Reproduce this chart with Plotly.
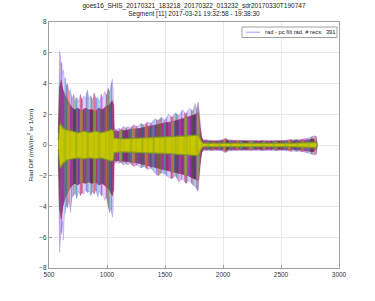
import plotly.graph_objects as go

# ---- data (envelopes of the 391 difference spectra) ----
# outer envelope (extremes)
wn_outer = [578, 585, 592, 598, 604, 610, 617, 624, 632, 640, 650, 660, 672, 685, 698, 712, 726, 740,
            755, 770, 785, 800, 815, 830, 845, 860, 875, 890, 905, 920, 935, 950, 965, 980, 995, 1010,
            1022, 1034, 1046, 1054, 1058,
            1062, 1080, 1100, 1120, 1140, 1160, 1180, 1200, 1230, 1260, 1290, 1320, 1350, 1380, 1410,
            1440, 1470, 1500, 1530, 1560, 1590, 1620, 1650, 1680, 1710, 1740, 1760, 1775, 1785, 1795,
            1805, 1815, 1825,
            1840, 1900, 1960, 2000, 2020, 2040, 2100, 2160, 2220, 2280, 2340, 2400, 2460, 2520, 2580,
            2640, 2700, 2740, 2770, 2790, 2805, 2812]
hi_outer = [0.8, 3.5, 6.1, 5.8, 5.2, 5.4, 4.6, 4.9, 4.2, 4.4, 3.8, 4.0, 3.4, 3.6, 3.0, 3.3, 2.9, 3.1,
            2.8, 3.3, 2.9, 3.2, 3.0, 3.6, 3.0, 3.2, 2.9, 3.4, 3.0, 3.1, 2.8, 3.3, 3.0, 3.5, 3.2, 3.7,
            3.4, 3.9, 4.3, 3.6, 1.2,
            1.1, 1.0, 1.1, 1.0, 1.2, 1.1, 1.2, 1.1, 1.3, 1.2, 1.4, 1.3, 1.5, 1.4, 1.7,
            1.6, 1.8, 1.6, 2.0, 1.8, 2.1, 1.9, 2.3, 2.0, 2.4, 2.2, 2.7, 2.3, 2.8, 2.2,
            1.2, 0.6, 0.4,
            0.35, 0.3, 0.3, 0.35, 0.45, 0.35, 0.3, 0.3, 0.3, 0.3, 0.3, 0.3, 0.3, 0.3, 0.35,
            0.35, 0.4, 0.45, 0.55, 0.6, 0.55, 0.2]
lo_outer = [-0.8, -3.8, -7.0, -6.2, -5.5, -5.8, -5.0, -6.2, -4.6, -4.4, -3.9, -4.1, -3.6, -4.4, -3.4, -3.3, -3.1, -3.5,
            -3.0, -3.3, -3.1, -3.2, -2.9, -3.1, -3.0, -3.3, -3.0, -3.2, -2.9, -3.4, -3.0, -3.3, -3.2, -3.6, -3.4, -4.0,
            -4.4, -4.1, -4.7, -4.3, -1.3,
            -1.2, -1.1, -1.2, -1.1, -1.3, -1.2, -1.3, -1.2, -1.4, -1.3, -1.5, -1.4, -1.6, -1.5, -1.8,
            -2.0, -1.8, -1.9, -2.1, -2.2, -2.0, -2.4, -2.2, -2.5, -2.3, -2.6, -2.7, -2.9, -3.0, -2.4,
            -1.3, -0.6, -0.4,
            -0.35, -0.35, -0.35, -0.4, -0.5, -0.4, -0.35, -0.35, -0.35, -0.35, -0.35, -0.35, -0.35, -0.35, -0.4,
            -0.4, -0.45, -0.5, -0.6, -0.65, -0.6, -0.2]

# dense band
wn_mid = [580, 592, 605, 620, 640, 665, 690, 720, 750, 780, 810, 840, 870, 900, 930, 960, 990, 1020, 1045,
          1058, 1062, 1100, 1150, 1200, 1250, 1300, 1350, 1400, 1450, 1500, 1550, 1600, 1650, 1700, 1750,
          1785, 1800, 1815, 1830, 1900, 2000, 2020, 2040, 2200, 2400, 2600, 2700, 2780, 2810]
hi_mid = [0.6, 3.8, 4.2, 3.6, 3.2, 2.8, 2.5, 2.3, 2.4, 2.2, 2.4, 2.3, 2.3, 2.2, 2.4, 2.3, 2.5, 2.6, 2.9,
          2.6, 0.9, 0.9, 0.95, 1.0, 1.05, 1.1, 1.2, 1.3, 1.35, 1.45, 1.5, 1.6, 1.7, 1.8, 1.95,
          2.1, 1.2, 0.5, 0.3, 0.25, 0.28, 0.35, 0.28, 0.25, 0.25, 0.28, 0.3, 0.4, 0.15]
lo_mid = [-0.6, -4.2, -4.8, -4.0, -3.4, -3.0, -2.7, -2.5, -2.6, -2.4, -2.5, -2.4, -2.5, -2.4, -2.6, -2.5, -2.7, -2.9, -3.3,
          -2.9, -1.0, -1.0, -1.05, -1.1, -1.15, -1.2, -1.3, -1.4, -1.5, -1.6, -1.7, -1.8, -1.9, -2.0, -2.2,
          -2.3, -1.3, -0.5, -0.3, -0.28, -0.3, -0.4, -0.3, -0.28, -0.28, -0.3, -0.35, -0.45, -0.15]

# yellow core
wn_core = [580, 590, 600, 620, 650, 700, 750, 800, 850, 900, 950, 1000, 1040, 1058, 1062, 1150, 1300,
           1500, 1700, 1790, 1810, 1830, 2000, 2200, 2400, 2600, 2800, 2810]
hi_core = [0.3, 1.2, 1.4, 1.1, 1.0, 0.9, 0.8, 0.9, 0.8, 0.9, 0.8, 0.9, 1.0, 0.9, 0.45, 0.4, 0.45,
           0.5, 0.6, 0.65, 0.3, 0.12, 0.12, 0.12, 0.12, 0.12, 0.18, 0.05]
lo_core = [-0.3, -1.2, -1.5, -1.2, -1.0, -0.9, -0.85, -0.9, -0.85, -0.9, -0.85, -0.95, -1.05, -0.95, -0.5, -0.45, -0.5,
           -0.55, -0.65, -0.7, -0.3, -0.12, -0.12, -0.12, -0.12, -0.12, -0.18, -0.05]

title_1 = "goes16_SHIS_20170321_183218_20170322_013232_sdr20170330T190747"
title_2 = "Segment [11] 2017-03-21 19:32:58 - 19:38:30"
legend_label = "rad - pc filt rad, # recs:\u00a0\u00a0391"
x_ticks = [500, 1000, 1500, 2000, 2500, 3000]
y_ticks = [-8, -6, -4, -2, 0, 2, 4, 6, 8]

FONT = "Liberation Sans, Arial, sans-serif"
CLEAR = "rgba(0,0,0,0)"


def band(xs, hi, lo):
    return list(xs) + list(xs)[::-1], list(hi) + list(lo)[::-1]


fig = go.Figure()


def add_fill(xs, hi, lo, fillcolor=None, line=None, pattern=None):
    bx, by = band(xs, hi, lo)
    kw = dict(x=bx, y=by, fill="toself", mode="lines", showlegend=False, hoverinfo="skip",
              line=line or dict(width=0, color=CLEAR))
    if fillcolor is not None:
        kw["fillcolor"] = fillcolor
    if pattern is not None:
        kw["fillpattern"] = pattern
        if fillcolor is None:
            kw["fillcolor"] = CLEAR
    fig.add_trace(go.Scatter(**kw))


# outer (sparse lines) band
add_fill(wn_outer, hi_outer, lo_outer, fillcolor="rgba(170,140,230,0.4)",
         line=dict(color="rgba(130,100,220,0.45)", width=0.6))
for col, size, sol in [("rgba(40,40,230,0.75)", 5, 0.3), ("rgba(220,60,200,0.75)", 7, 0.3),
                       ("rgba(60,200,200,0.7)", 11, 0.25), ("rgba(230,40,40,0.7)", 13, 0.25),
                       ("rgba(60,170,60,0.6)", 17, 0.2)]:
    add_fill(wn_outer, hi_outer, lo_outer, pattern=dict(shape="|", fgcolor=col, bgcolor=CLEAR,
                                                        size=size, solidity=sol))

# dense multicolour band
add_fill(wn_mid, hi_mid, lo_mid, fillcolor="rgba(140,55,125,0.92)",
         line=dict(color="rgba(190,40,80,0.6)", width=0.8))
for col, size, sol in [("rgba(30,30,220,0.85)", 4, 0.3), ("rgba(215,30,40,0.85)", 5, 0.3),
                       ("rgba(30,140,60,0.85)", 7, 0.3), ("rgba(210,40,210,0.85)", 9, 0.3),
                       ("rgba(40,170,180,0.8)", 11, 0.25), ("rgba(200,200,0,0.8)", 13, 0.25),
                       ("rgba(30,30,30,0.6)", 17, 0.2)]:
    add_fill(wn_mid, hi_mid, lo_mid, pattern=dict(shape="|", fgcolor=col, bgcolor=CLEAR,
                                                  size=size, solidity=sol))

# yellow core
add_fill(wn_core, hi_core, lo_core, fillcolor="#c8c600",
         line=dict(color="rgba(120,150,40,0.8)", width=1.4))
add_fill(wn_core, hi_core, lo_core, pattern=dict(shape="|", fgcolor="rgba(150,170,20,0.55)",
                                                 bgcolor=CLEAR, size=6, solidity=0.3))
add_fill(wn_core, hi_core, lo_core, pattern=dict(shape="|", fgcolor="rgba(60,140,60,0.35)",
                                                 bgcolor=CLEAR, size=11, solidity=0.2))

axis_common = dict(showgrid=True, gridcolor="#e8e8e8", gridwidth=1, zeroline=False,
                   showline=True, linecolor="#a0a0a0", linewidth=1, mirror=True,
                   ticks="inside", ticklen=3, tickcolor="#a0a0a0",
                   tickfont=dict(family=FONT, size=6.5, color="#333333"))

# plot-area pixel geometry: x 49..339, y 22..268
PX0, PX1, PY0, PY1 = 49, 339, 22, 268


def px(x):
    return (x - PX0) / (PX1 - PX0)


def py(y):
    return (PY1 - y) / (PY1 - PY0)


fig.update_layout(
    width=375, height=301,
    margin=dict(l=49, r=36, t=22, b=33),
    paper_bgcolor="white", plot_bgcolor="white",
    font=dict(family=FONT, size=6.5, color="#222222"),
    title=dict(text=title_1 + "<br>" + title_2, x=194 / 375, xanchor="center",
               y=0.975, yanchor="top", font=dict(family=FONT, size=6.5, color="#222222")),
    xaxis=dict(range=[500, 3000], tickvals=x_ticks, **axis_common),
    yaxis=dict(range=[-8, 8], tickvals=y_ticks, title=dict(text="Rad Diff (mW/(m<sup>2</sup> sr 1/cm)",
               font=dict(family=FONT, size=6.2, color="#222222"), standoff=5), **axis_common),
    showlegend=False,
    shapes=[
        dict(type="rect", xref="paper", yref="paper", x0=px(242), x1=px(337), y0=py(37.5), y1=py(27),
             line=dict(color="#a0a0a0", width=1), fillcolor="white", layer="above"),
        dict(type="line", xref="paper", yref="paper", x0=px(246), x1=px(260), y0=py(32.2), y1=py(32.2),
             line=dict(color="#9a9aff", width=1), layer="above"),
    ],
    annotations=[
        dict(text=legend_label, xref="paper", yref="paper", x=px(262.5), y=py(32.2),
             xanchor="left", yanchor="middle", showarrow=False,
             font=dict(family=FONT, size=5.8, color="#222222")),
    ],
)

fig.write_html("out.html")
